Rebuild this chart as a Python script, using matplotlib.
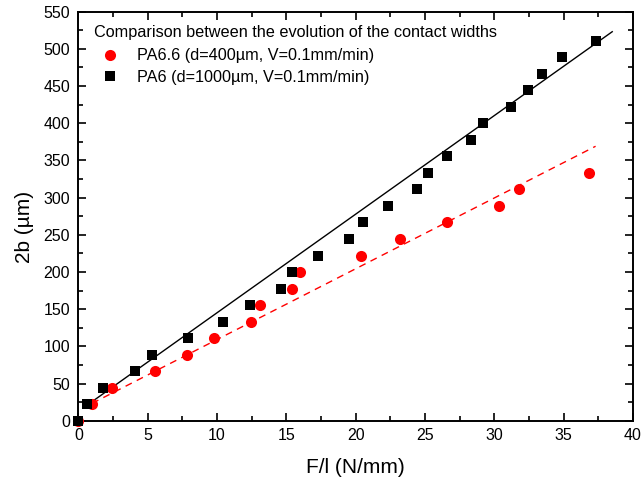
import numpy as np
import matplotlib
matplotlib.use("Agg")
import matplotlib.pyplot as plt
from matplotlib.ticker import MultipleLocator

plt.rcParams['font.family'] = ['Liberation Sans', 'DejaVu Sans']

# contact width 2b (um) against load per unit length F/l (N/mm)
pa66_load = [0, 0.99, 2.43, 5.5, 7.83, 9.75, 12.47, 13.07, 15.4, 15.95,
             20.4, 23.2, 26.6, 30.3, 31.8, 36.8]
pa66_width = [0, 22.2, 44.4, 66.7, 88.9, 111.1, 133.3, 155.6, 177.8, 200.0,
              222.2, 244.4, 266.7, 288.9, 311.1, 333.3]

pa6_load = [0, 0.62, 1.78, 4.08, 5.3, 7.9, 10.4, 12.4, 14.6, 15.4, 17.3,
            19.5, 20.5, 22.3, 24.4, 25.2, 26.6, 28.3, 29.2, 31.2, 32.4,
            33.4, 34.9, 37.3]
pa6_width = [0, 22.2, 44.4, 66.7, 88.9, 111.1, 133.3, 155.6, 177.8, 200.0,
             222.2, 244.4, 266.7, 288.9, 311.1, 333.3, 355.6, 377.8, 400.0,
             422.2, 444.4, 466.7, 488.9, 511.1]

# linear fits (slope, intercept, x range)
pa66_fit = (9.52, 14.0, 1.0, 37.3)
pa6_fit = (13.26, 12.6, 0.8, 38.5)

fig = plt.figure(figsize=(6.43, 4.82), dpi=100)
ax = fig.add_axes([0.1218, 0.127, 0.8627, 0.8487])

ax.plot(pa66_load, pa66_width, 'o', color='#ff0000', markersize=8.0,
        markeredgewidth=0, label='PA6.6 (d=400µm, V=0.1mm/min)', zorder=3,
        clip_on=False)
ax.plot(pa6_load, pa6_width, 's', color='black', markersize=7.5,
        markeredgewidth=0, label='PA6 (d=1000µm, V=0.1mm/min)', zorder=4,
        clip_on=False)

a, b, x0, x1 = pa66_fit
xs = np.array([x0, x1])
ax.plot(xs, a * xs + b, '--', color='#ff0000', linewidth=1.0,
        dashes=(5, 4), zorder=2)
a, b, x0, x1 = pa6_fit
xs = np.array([x0, x1])
ax.plot(xs, a * xs + b, '-', color='black', linewidth=1.0, zorder=2)

ax.set_xlim(0, 40)
ax.set_ylim(0, 550)
ax.xaxis.set_major_locator(MultipleLocator(5))
ax.xaxis.set_minor_locator(MultipleLocator(2.5))
ax.yaxis.set_major_locator(MultipleLocator(50))
ax.yaxis.set_minor_locator(MultipleLocator(25))
ax.tick_params(which='both', direction='in', top=True, right=True,
               labelsize=11.5, width=1.2)
ax.tick_params(which='major', length=6)
ax.tick_params(which='minor', length=3.5)
ax.tick_params(axis='y', pad=6)
ax.tick_params(axis='x', pad=5)
for s in ax.spines.values():
    s.set_linewidth(1.4)

ax.set_xlabel('F/l (N/mm)', fontsize=15, labelpad=11)
ax.set_ylabel('2b (µm)', fontsize=15)
ax.yaxis.set_label_coords(-0.079, 0.475)

leg = ax.legend(loc='upper left', frameon=False, fontsize=11.7,
                title='Comparison between the evolution of the contact widths',
                title_fontsize=11.7, handlelength=2.0, handletextpad=0.7,
                borderaxespad=0.3, labelspacing=0.4,
                bbox_to_anchor=(0.007, 0.995))
leg._legend_box.align = 'left'
leg._legend_box.sep = 6

fig.savefig('out.png', dpi=100)
